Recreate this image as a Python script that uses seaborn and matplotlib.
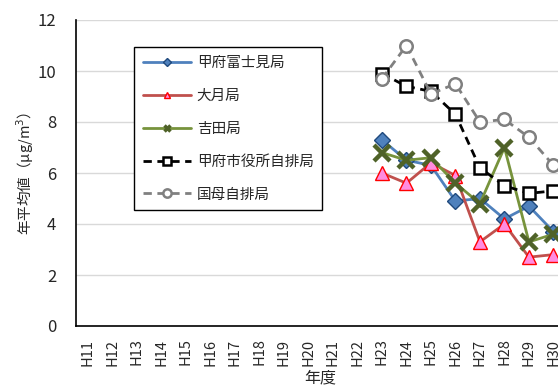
import matplotlib
matplotlib.use("Agg")
import matplotlib.pyplot as plt
import seaborn as sns
import pandas as pd
import numpy as np
from matplotlib.lines import Line2D

years = ["H11", "H12", "H13", "H14", "H15", "H16", "H17", "H18", "H19", "H20",
         "H21", "H22", "H23", "H24", "H25", "H26", "H27", "H28", "H29", "H30"]
data_years = ["H23", "H24", "H25", "H26", "H27", "H28", "H29", "H30"]

fujimi = [7.3, 6.5, 6.3, 4.9, 5.0, 4.2, 4.7, 3.7]
otsuki = [6.0, 5.6, 6.4, 5.9, 3.3, 4.0, 2.7, 2.8]
yoshida = [6.8, 6.5, 6.6, 5.6, 4.8, 7.0, 3.3, 3.6]
shiyakusho = [9.9, 9.4, 9.2, 8.3, 6.2, 5.5, 5.2, 5.3]
kokubo = [9.7, 11.0, 9.1, 9.5, 8.0, 8.1, 7.4, 6.3]

names = ["甲府富士見局", "大月局", "吉田局", "甲府市役所自排局", "国母自排局"]
series = [fujimi, otsuki, yoshida, shiyakusho, kokubo]

sns.set_theme(style="white")
plt.rcParams['font.family'] = ['Noto Sans CJK JP', 'DejaVu Sans']

styles = [
    dict(color="#4F81BD", linestyle="-", marker="D", markersize=8,
         markerfacecolor="#4F81BD", markeredgecolor="#1F497D", markeredgewidth=1.0),
    dict(color="#C0504D", linestyle="-", marker="^", markersize=10,
         markerfacecolor="#FF8CE0", markeredgecolor="#FF0000", markeredgewidth=1.0),
    dict(color="#77933C", linestyle="-", marker="x", markersize=11,
         markeredgecolor="#4F6228", markeredgewidth=3.2),
    dict(color="black", linestyle=(0, (3, 2)), marker="s", markersize=9,
         markerfacecolor="white", markeredgecolor="black", markeredgewidth=1.8),
    dict(color="#808080", linestyle=(0, (3, 2)), marker="o", markersize=9,
         markerfacecolor="white", markeredgecolor="#808080", markeredgewidth=1.8),
]
legend_styles = [
    dict(marker="D", markersize=4, markerfacecolor="#4F81BD", markeredgecolor="#1F497D"),
    dict(marker="^", markersize=5, markerfacecolor="#FF8CE0", markeredgecolor="#FF0000"),
    dict(marker="x", markersize=5, markeredgecolor="#4F6228", markeredgewidth=2.5),
    dict(marker="s", markersize=6, markerfacecolor="white", markeredgecolor="black", markeredgewidth=1.8),
    dict(marker="o", markersize=6, markerfacecolor="white", markeredgecolor="#808080", markeredgewidth=1.8),
]

rows = []
for n, vals in zip(names, series):
    for y, v in zip(data_years, vals):
        rows.append({"station": n, "year": y, "pos": years.index(y), "value": v})
df = pd.DataFrame(rows)

fig = plt.figure(figsize=(5.58, 3.86), dpi=100)
W, H = 558, 386
left_px, bottom_px, top_px = 75.7, 326, 20
cat_px = 24.5
ncat = len(years)
ax = fig.add_axes([left_px / W, (H - bottom_px) / H, ncat * cat_px / W, (bottom_px - top_px) / H])

for n, st in zip(names, styles):
    sub = df[df["station"] == n]
    sns.lineplot(data=sub, x="pos", y="value", ax=ax, linewidth=2.0,
                 legend=False, **st)

ax.set_xlim(-0.5, ncat - 0.5)
ax.set_ylim(0, 12)
ax.set_yticks(np.arange(0, 13, 2))
ax.set_xticks(range(len(years)))
ax.set_xticklabels(years, rotation=90, fontsize=10.5)
ax.set_xticks(np.arange(-0.5, ncat, 1), minor=True)
ax.tick_params(axis="x", which="major", length=0, pad=9)
ax.tick_params(axis="x", which="minor", length=5, width=1, color="black", direction="out")
ax.tick_params(axis="y", which="major", length=5, width=1, color="black", direction="out",
               labelsize=12, pad=9)
ax.yaxis.grid(True, color="#D9D9D9", linewidth=1)
ax.xaxis.grid(False)
ax.set_axisbelow(True)
for s in ["top", "right"]:
    ax.spines[s].set_visible(False)
for s in ["left", "bottom"]:
    ax.spines[s].set_color("black")
    ax.spines[s].set_linewidth(1.2)

ax.set_xlabel("年度", fontsize=11.5, labelpad=3)
ax.set_ylabel("年平均値（μg/m$^3$）", fontsize=10.5, labelpad=1)

handles = []
for st, ls in zip(styles, legend_styles):
    h = Line2D([0], [0], color=st["color"], linestyle=st["linestyle"], linewidth=2.0, **ls)
    handles.append(h)
ax_w = ncat * cat_px
ax_h = bottom_px - top_px
leg = ax.legend(handles, names, loc="upper left",
                bbox_to_anchor=((134 - left_px) / ax_w, (bottom_px - 47) / ax_h),
                borderaxespad=0, fontsize=10.5, frameon=True, fancybox=False,
                edgecolor="black", framealpha=1, handlelength=3.3, labelspacing=1.3,
                borderpad=0.6, handletextpad=0.4)
leg.get_frame().set_linewidth(1.0)

fig.savefig("out.png", dpi=100)
